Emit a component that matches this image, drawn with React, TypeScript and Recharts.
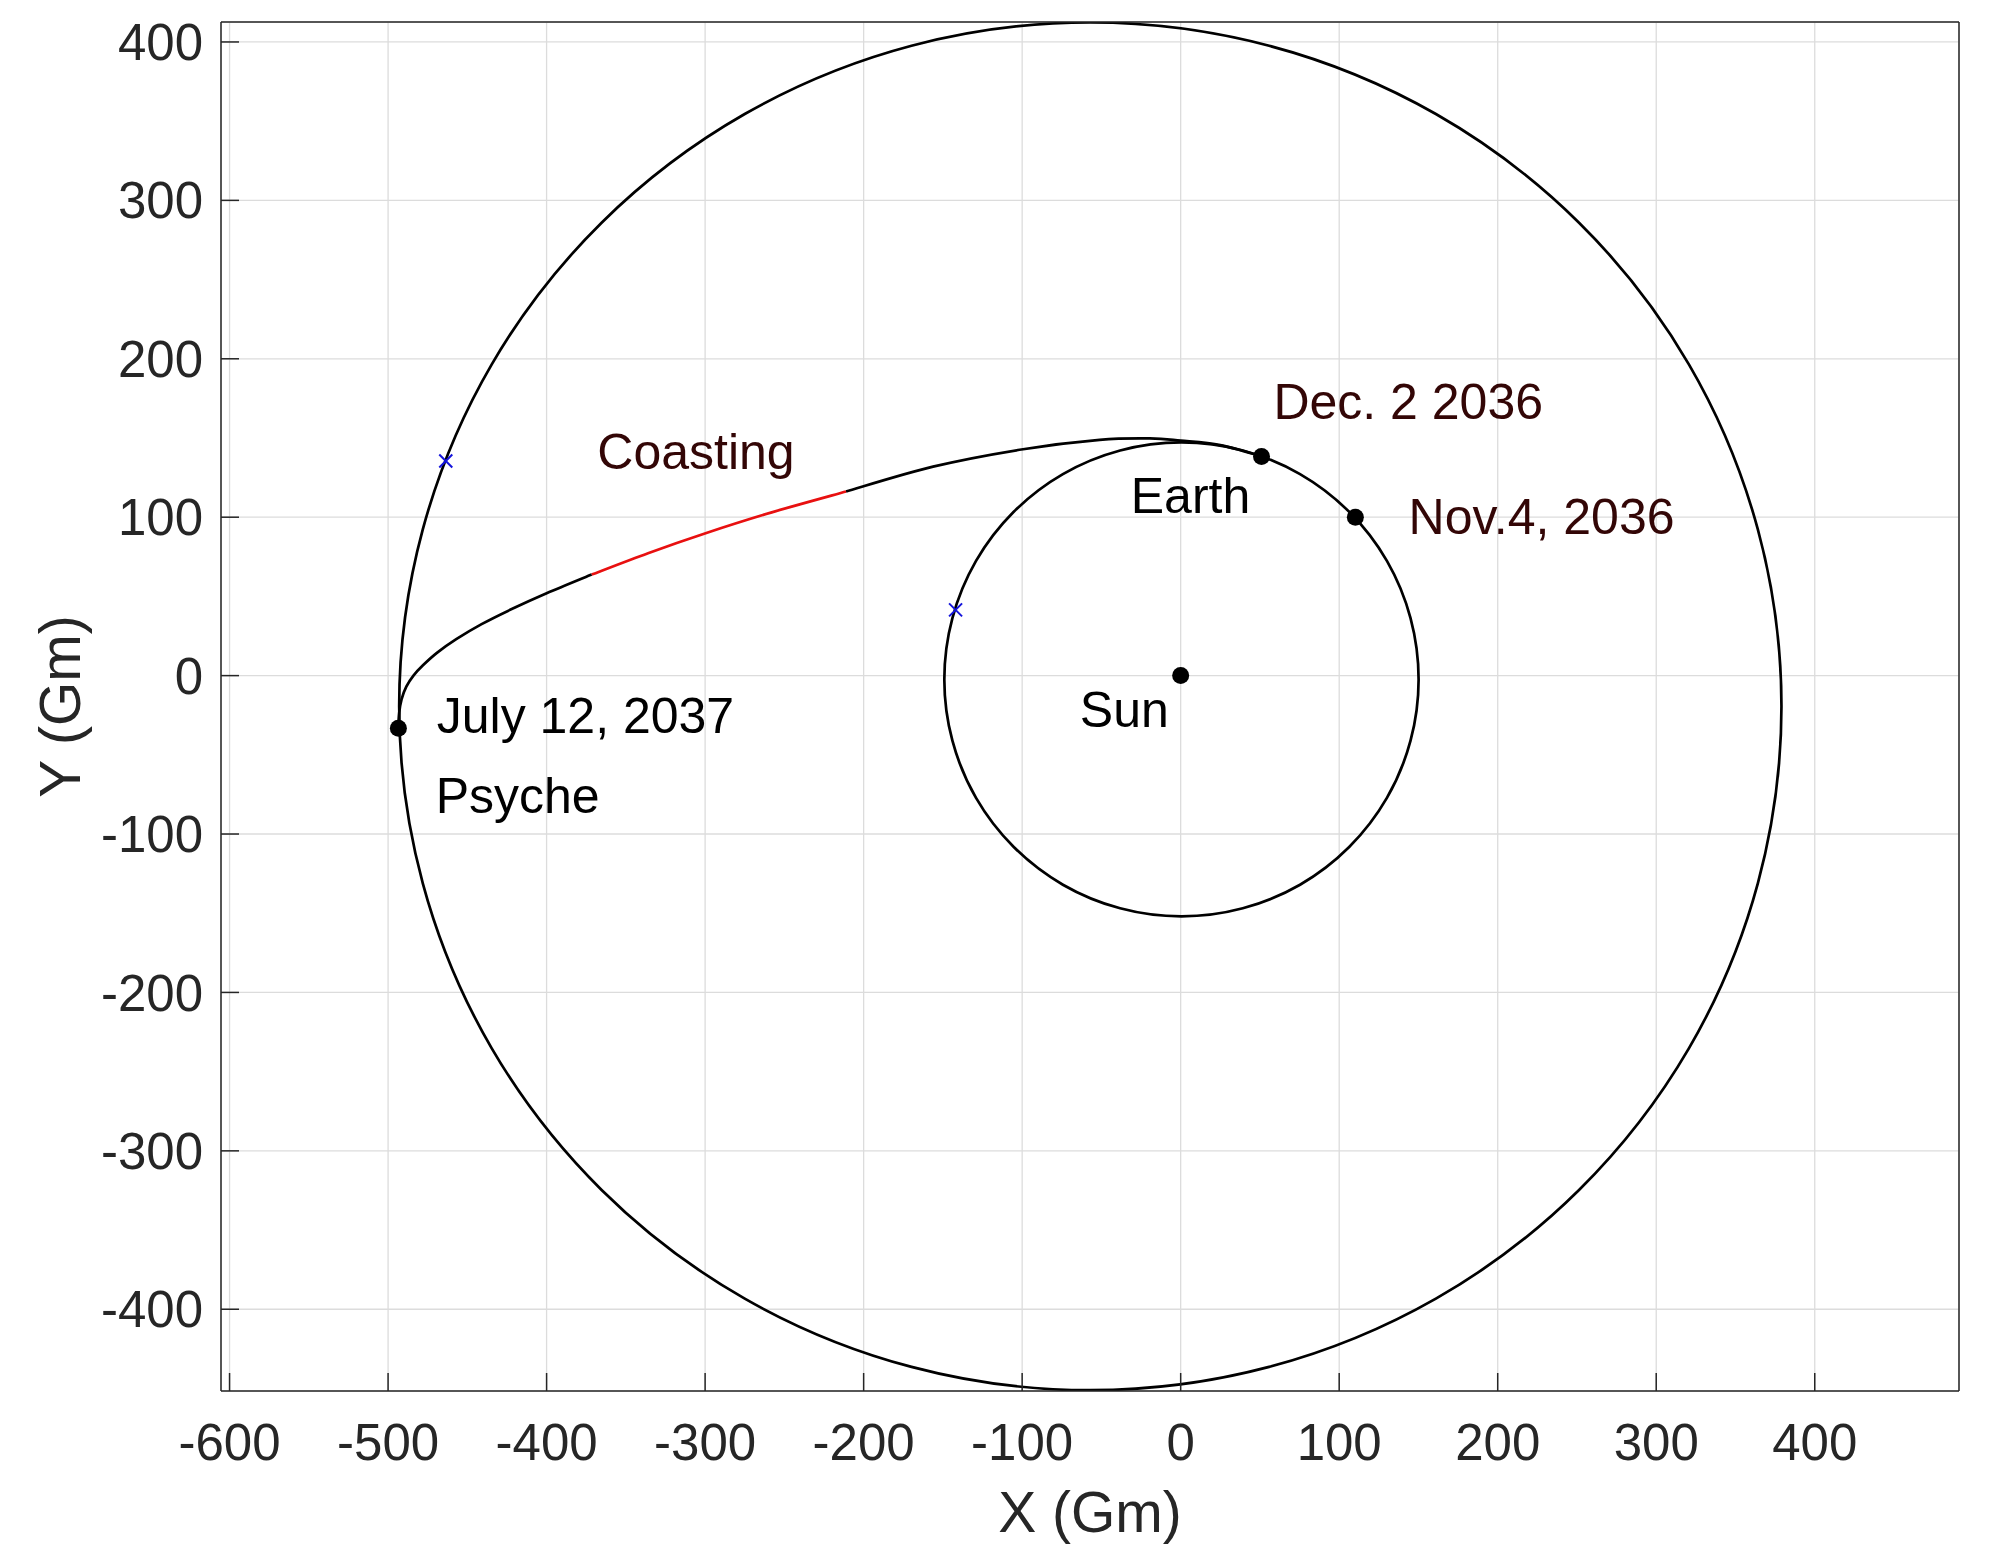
import React from 'react';
import { ComposedChart, XAxis, YAxis, CartesianGrid, Line, Scatter } from 'recharts';

const FONT = '"Liberation Sans", Arial, Helvetica, sans-serif';

const xTicks = [-600, -500, -400, -300, -200, -100, 0, 100, 200, 300, 400];
const yTicks = [-400, -300, -200, -100, 0, 100, 200, 300, 400];
const xDomain = [-605.4, 491];
const yDomain = [-451.6, 412.6];

// Psyche orbit, points read around the outer ellipse (closed curve)
const psycheOrbit = [
  { x: 379, y: -19.4 },
  { x: 364.1, y: 92.3 },
  { x: 320.6, y: 196.5 },
  { x: 251.3, y: 285.9 },
  { x: 161, y: 354.5 },
  { x: 55.8, y: 397.6 },
  { x: -57, y: 412.3 },
  { x: -169.8, y: 397.6 },
  { x: -275, y: 354.5 },
  { x: -365.3, y: 285.9 },
  { x: -434.6, y: 196.5 },
  { x: -478.1, y: 92.3 },
  { x: -493, y: -19.4 },
  { x: -478.1, y: -131.1 },
  { x: -434.6, y: -235.3 },
  { x: -365.3, y: -324.7 },
  { x: -275, y: -393.3 },
  { x: -169.8, y: -436.4 },
  { x: -57, y: -451.1 },
  { x: 55.8, y: -436.4 },
  { x: 161, y: -393.3 },
  { x: 251.3, y: -324.7 },
  { x: 320.6, y: -235.3 },
  { x: 364.1, y: -131.1 },
];

// Earth orbit, points read around the inner ellipse (closed curve)
const earthOrbit = [
  { x: 150.1, y: -2.4 },
  { x: 145.0, y: 36.3 },
  { x: 130.1, y: 72.4 },
  { x: 106.3, y: 103.4 },
  { x: 75.3, y: 127.2 },
  { x: 39.2, y: 142.1 },
  { x: 0.5, y: 147.2 },
  { x: -38.2, y: 142.1 },
  { x: -74.3, y: 127.2 },
  { x: -105.3, y: 103.4 },
  { x: -129.1, y: 72.4 },
  { x: -144.0, y: 36.3 },
  { x: -149.1, y: -2.4 },
  { x: -144.0, y: -41.1 },
  { x: -129.1, y: -77.2 },
  { x: -105.3, y: -108.2 },
  { x: -74.3, y: -132.0 },
  { x: -38.2, y: -146.9 },
  { x: 0.5, y: -152.0 },
  { x: 39.2, y: -146.9 },
  { x: 75.3, y: -132.0 },
  { x: 106.3, y: -108.2 },
  { x: 130.1, y: -77.2 },
  { x: 145.0, y: -41.1 },
];

// Transfer trajectory: Earth departure -> coast start
const transferBeforeCoast = [
  { x: 51, y: 138.4 },
  { x: 25, y: 145.5 },
  { x: 0, y: 148.3 },
  { x: -19.5, y: 149.7 },
  { x: -51.1, y: 148.8 },
  { x: -99.4, y: 142.9 },
  { x: -156.2, y: 131.9 },
  { x: -211.1, y: 116.2 },
];

// Coasting arc (red)
const coastArc = [
  { x: -211.1, y: 116.2 },
  { x: -258.5, y: 102.9 },
  { x: -299.7, y: 89.9 },
  { x: -336, y: 77.3 },
  { x: -371.6, y: 63.8 },
];

// Coast end -> Psyche arrival
const transferAfterCoast = [
  { x: -371.6, y: 63.8 },
  { x: -400, y: 52 },
  { x: -422, y: 42 },
  { x: -441, y: 32.5 },
  { x: -457, y: 23 },
  { x: -469, y: 14.5 },
  { x: -478, y: 6.5 },
  { x: -484, y: 0 },
  { x: -488.5, y: -7 },
  { x: -491.5, y: -15 },
  { x: -493, y: -23.5 },
  { x: -493.6, y: -33.2 },
];

const bodies = [
  { x: 0, y: 0 },
  { x: 51, y: 138.3 },
  { x: 110.2, y: 100 },
  { x: -493.5, y: -33.2 },
];

const crossMarks = [
  { x: -463.6, y: 135.5 },
  { x: -142, y: 41.5 },
];

const annotations = [
  { x: -368, y: 130.3, text: 'Coasting', color: '#330606' },
  { x: 58.5, y: 161.9, text: 'Dec. 2 2036', color: '#330606' },
  { x: 143.8, y: 89.5, text: 'Nov.4, 2036', color: '#330606' },
  { x: -31.5, y: 102.5, text: 'Earth', color: '#000000' },
  { x: -469.3, y: -36.4, text: 'July 12, 2037', color: '#000000' },
  { x: -470, y: -86.9, text: 'Psyche', color: '#000000' },
  { x: -63.6, y: -32.2, text: 'Sun', color: '#000000' },
];

const AXIS_COLOR = '#262626';

// Catmull-Rom curve factories (closed and open) passing through every sampled point
function makeSpline(closed: boolean) {
  return function factory(context: any) {
    let pts: number[][] = [];
    return {
      areaStart() {},
      areaEnd() {},
      lineStart() {
        pts = [];
      },
      point(x: number, y: number) {
        pts.push([+x, +y]);
      },
      lineEnd() {
        const n = pts.length;
        if (n === 0) return;
        context.moveTo(pts[0][0], pts[0][1]);
        if (n < 3) {
          for (let i = 1; i < n; i++) context.lineTo(pts[i][0], pts[i][1]);
          return;
        }
        const segs = closed ? n : n - 1;
        const at = (i: number) => (closed ? pts[((i % n) + n) % n] : pts[Math.max(0, Math.min(n - 1, i))]);
        for (let i = 0; i < segs; i++) {
          const p0 = at(i - 1);
          const p1 = at(i);
          const p2 = at(i + 1);
          const p3 = at(i + 2);
          context.bezierCurveTo(
            p1[0] + (p2[0] - p0[0]) / 6,
            p1[1] + (p2[1] - p0[1]) / 6,
            p2[0] - (p3[0] - p1[0]) / 6,
            p2[1] - (p3[1] - p1[1]) / 6,
            p2[0],
            p2[1],
          );
        }
        if (closed) context.closePath();
      },
    };
  };
}

const closedCurve: any = makeSpline(true);
const openCurve: any = makeSpline(false);

const renderDot = (p: any) => <circle cx={p.cx} cy={p.cy} r={8.5} fill="#000" />;

const renderCross = (p: any) => (
  <g>
    <line x1={p.cx - 6.5} y1={p.cy - 6.5} x2={p.cx + 6.5} y2={p.cy + 6.5} stroke="#1414dc" strokeWidth={2} />
    <line x1={p.cx - 6.5} y1={p.cy + 6.5} x2={p.cx + 6.5} y2={p.cy - 6.5} stroke="#1414dc" strokeWidth={2} />
  </g>
);

const renderText = (p: any) => (
  <text x={p.cx} y={p.cy} fontSize={50} fontFamily={FONT} fill={p.payload.color}>
    {p.payload.text}
  </text>
);

export default function App() {
  const tickStyle = { fontSize: 51, fill: AXIS_COLOR, fontFamily: FONT };
  const lineStyle = { stroke: AXIS_COLOR, strokeWidth: 1.5 };
  const common = { dataKey: 'y', dot: false, activeDot: false, isAnimationActive: false, strokeWidth: 2.7, fill: 'none' } as any;
  return (
    <div style={{ position: 'absolute', left: 0, top: 0, width: 2000, height: 1558, background: '#fff' }}>
      <ComposedChart width={2000} height={1558} margin={{ top: 21, right: 40, left: 0, bottom: 0 }}>
        <CartesianGrid stroke="#dcdcdc" strokeWidth={1.3} />
        <XAxis
          xAxisId={0}
          dataKey="x"
          type="number"
          domain={xDomain}
          ticks={xTicks}
          allowDataOverflow
          interval={0}
          height={167}
          tickSize={-18}
          tickMargin={51}
          tick={tickStyle}
          axisLine={lineStyle}
          tickLine={lineStyle}
          label={{ value: 'X (Gm)', position: 'insideBottom', offset: 26, style: { fontSize: 57, fill: AXIS_COLOR, fontFamily: FONT } }}
        />
        <XAxis
          xAxisId="top"
          orientation="top"
          type="number"
          domain={xDomain}
          ticks={xTicks}
          allowDataOverflow
          interval={0}
          height={1}
          tickSize={-18}
          tick={false}
          axisLine={lineStyle}
          tickLine={lineStyle}
        />
        <YAxis
          yAxisId={0}
          dataKey="y"
          type="number"
          domain={yDomain}
          ticks={yTicks}
          allowDataOverflow
          interval={0}
          width={221}
          tickSize={-18}
          tickMargin={36}
          tick={tickStyle}
          axisLine={lineStyle}
          tickLine={lineStyle}
          label={{ value: 'Y (Gm)', angle: -90, position: 'insideLeft', offset: 60, style: { fontSize: 57, fill: AXIS_COLOR, fontFamily: FONT, textAnchor: 'middle' } }}
        />
        <YAxis
          yAxisId="right"
          orientation="right"
          type="number"
          domain={yDomain}
          ticks={yTicks}
          allowDataOverflow
          interval={0}
          width={1}
          tickSize={-18}
          tick={false}
          axisLine={lineStyle}
          tickLine={lineStyle}
        />
        <Line {...common} data={psycheOrbit} type={closedCurve} stroke="#000" />
        <Line {...common} data={earthOrbit} type={closedCurve} stroke="#000" />
        <Line {...common} data={transferBeforeCoast} type={openCurve} stroke="#000" />
        <Line {...common} data={coastArc} type={openCurve} stroke="#e81010" />
        <Line {...common} data={transferAfterCoast} type={openCurve} stroke="#000" />
        <Scatter data={bodies} dataKey="y" shape={renderDot} isAnimationActive={false} />
        <Scatter data={crossMarks} dataKey="y" shape={renderCross} isAnimationActive={false} />
        <Scatter data={annotations} dataKey="y" shape={renderText} isAnimationActive={false} />
      </ComposedChart>
    </div>
  );
}
